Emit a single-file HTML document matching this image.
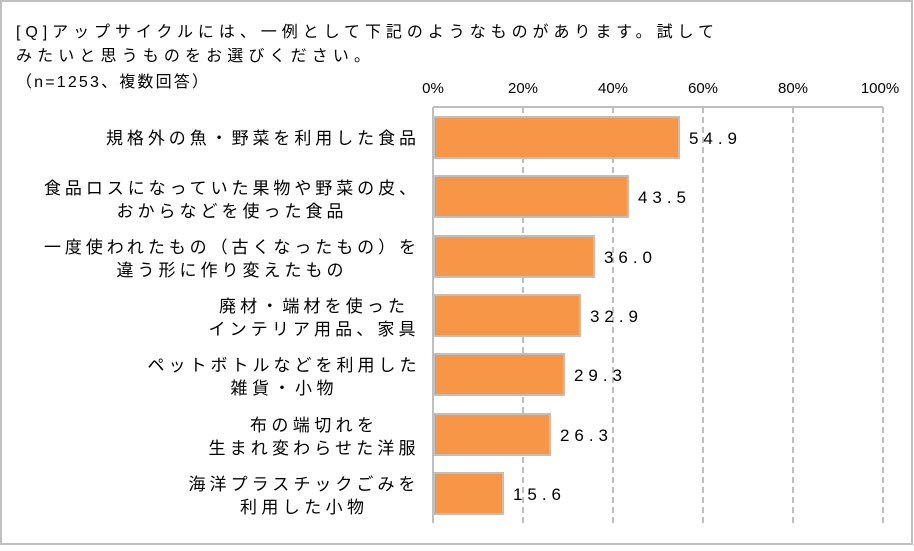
<!DOCTYPE html><html><head><meta charset="utf-8"><style>body{margin:0;width:914px;height:546px;overflow:hidden;background:#fff}</style></head><body>
<svg width="914" height="546" xmlns="http://www.w3.org/2000/svg" font-family="'Liberation Sans','Noto Sans CJK JP',sans-serif" font-size="16" fill="#000">
<rect x="1" y="1" width="911" height="543" fill="#fff" stroke="#bfbfbf" stroke-width="2"/>
<text x="16" y="37" textLength="698" lengthAdjust="spacing">[Q]アップサイクルには、一例として下記のようなものがあります。試して</text>
<text x="16" y="61" textLength="354" lengthAdjust="spacing">みたいと思うものをお選びください。</text>
<text x="16" y="87" textLength="192" lengthAdjust="spacing">（n=1253、複数回答）</text>
<g font-size="15" text-anchor="middle">
<text x="433" y="93">0%</text><text x="523" y="93">20%</text><text x="613" y="93">40%</text><text x="703" y="93">60%</text><text x="793" y="93">80%</text><text x="880" y="93">100%</text></g>
<line x1="433" y1="107" x2="883" y2="107" stroke="#bfbfbf" stroke-width="2"/>
<g stroke="#bfbfbf" stroke-width="2" stroke-dasharray="6,4">
<line x1="523" y1="107" x2="523" y2="523"/><line x1="613" y1="107" x2="613" y2="523"/><line x1="703" y1="107" x2="703" y2="523"/><line x1="793" y1="107" x2="793" y2="523"/><line x1="883" y1="107" x2="883" y2="523"/></g>
<line x1="433" y1="107" x2="433" y2="523" stroke="#bfbfbf" stroke-width="2"/>
<g stroke="#bfbfbf" stroke-width="2" fill="#f79646">
<rect x="434" y="117" width="245" height="41"/>
<rect x="434" y="176" width="194" height="41"/>
<rect x="434" y="236" width="160" height="41"/>
<rect x="434" y="295" width="146" height="41"/>
<rect x="434" y="354" width="130" height="41"/>
<rect x="434" y="414" width="116" height="41"/>
<rect x="434" y="473" width="69" height="41"/></g>
<g font-size="17">
<text x="689" y="144" textLength="48">54.9</text><text x="638" y="203" textLength="48">43.5</text><text x="604" y="263" textLength="48">36.0</text><text x="590" y="322" textLength="48">32.9</text><text x="574" y="381" textLength="48">29.3</text><text x="560" y="441" textLength="48">26.3</text><text x="513" y="500" textLength="48">15.6</text></g>
<g text-anchor="middle" font-size="17" lengthAdjust="spacing">
<text x="261" y="144" textLength="310" lengthAdjust="spacing">規格外の魚・野菜を利用した食品</text>
<text x="230" y="194" textLength="372" lengthAdjust="spacing">食品ロスになっていた果物や野菜の皮、</text><text x="230" y="217" textLength="227" lengthAdjust="spacing">おからなどを使った食品</text>
<text x="230" y="253" textLength="372" lengthAdjust="spacing">一度使われたもの（古くなったもの）を</text><text x="230" y="276" textLength="227" lengthAdjust="spacing">違う形に作り変えたもの</text>
<text x="312" y="312" textLength="186" lengthAdjust="spacing">廃材・端材を使った</text><text x="312" y="335" textLength="207" lengthAdjust="spacing">インテリア用品、家具</text>
<text x="282" y="371" textLength="269" lengthAdjust="spacing">ペットボトルなどを利用した</text><text x="282" y="394" textLength="103" lengthAdjust="spacing">雑貨・小物</text>
<text x="312" y="431" textLength="124" lengthAdjust="spacing">布の端切れを</text><text x="312" y="454" textLength="207" lengthAdjust="spacing">生まれ変わらせた洋服</text>
<text x="302" y="490" textLength="227" lengthAdjust="spacing">海洋プラスチックごみを</text><text x="302" y="513" textLength="124" lengthAdjust="spacing">利用した小物</text></g>
</svg></body></html>
